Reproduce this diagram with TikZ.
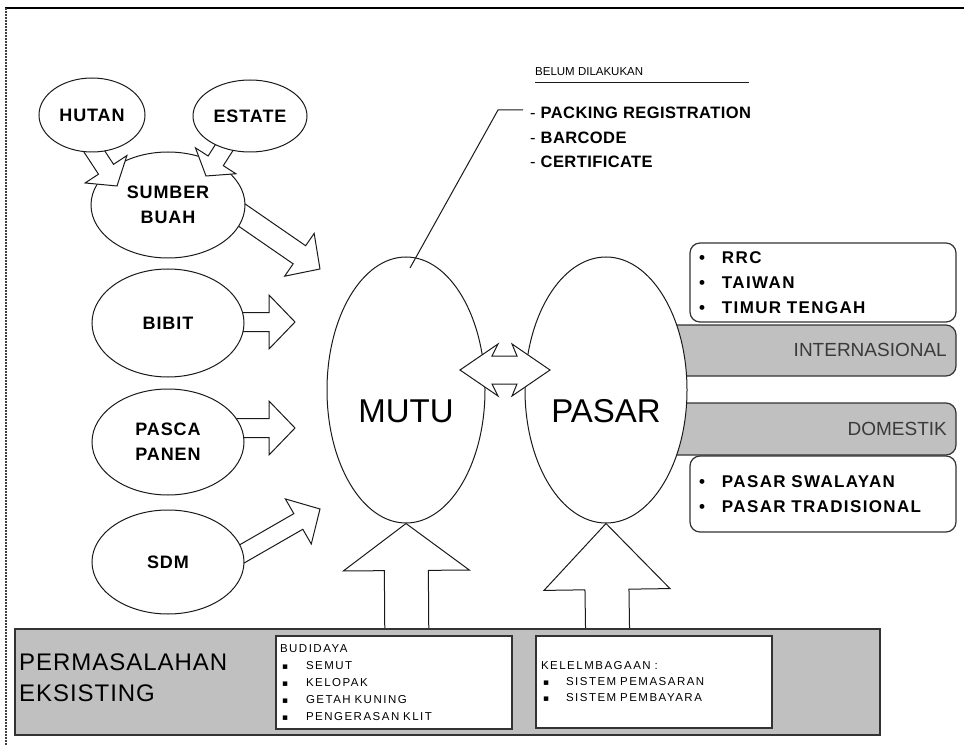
\documentclass[tikz,border=0pt]{standalone}
\usepackage{fontspec}
\setmainfont{Liberation Sans}
\newfontfamily\dgOvalFace[LetterSpace=5]{Liberation Sans}
\newfontfamily\dgListFace[LetterSpace=8]{Liberation Sans}
\newfontfamily\dgSmallFace[LetterSpace=13]{Liberation Sans}
\newfontfamily\dgWideFace[LetterSpace=4]{Liberation Sans}
\newfontfamily\dgNoteFace[LetterSpace=2.5]{Liberation Sans}
\newfontfamily\dgSymFace{DejaVu Sans}
\usetikzlibrary{shapes.geometric,calc}
\pgfdeclarelayer{back}
\pgfdeclarelayer{mid}
\pgfdeclarelayer{front}
\pgfsetlayers{back,main,mid,front}

\definecolor{panel}{HTML}{C0C0C0}
\definecolor{edge}{HTML}{333333}
\definecolor{ink}{HTML}{1A1A1A}
\definecolor{bandtext}{HTML}{3A3A3A}

\newcommand\dgOval{\dgOvalFace\bfseries\fontsize{18}{25}\selectfont}
\newcommand\dgBig{\fontsize{33}{36}\selectfont}
\newcommand\dgList{\dgListFace\bfseries\fontsize{17}{25}\selectfont}
\newcommand\dgBand{\fontsize{19}{22}\selectfont}
\newcommand\dgSmall{\dgSmallFace\fontsize{11.5}{17.2}\selectfont}
\newcommand\dgIssue{\dgWideFace\fontsize{24}{31}\selectfont}
\newcommand\dgNote{\dgNoteFace\fontsize{16.5}{24.5}\selectfont}
\newcommand\dgSq{{\dgSymFace\fontsize{9}{10}\selectfont ▪}}

% Block arrow from #1 to #2: shaft half-width #3, head half-width #4, head length #5
\newcommand\blockarrow[5]{%
  \path let \p1=($(#2)-(#1)$) in \pgfextra{%
    \pgfmathsetmacro\dgLen{veclen(\x1,\y1)}%
    \pgfmathsetmacro\dgAng{atan2(\y1,\x1)}%
    \xdef\dgLen{\dgLen}\xdef\dgAng{\dgAng}};
  \begin{scope}[shift={(#1)},rotate=\dgAng]
    \draw[blockarrow]
      (0pt,#3pt) -- ({\dgLen pt-#5pt},#3pt) -- ({\dgLen pt-#5pt},#4pt)
      -- (\dgLen pt,0pt)
      -- ({\dgLen pt-#5pt},-#4pt) -- ({\dgLen pt-#5pt},-#3pt) -- (0pt,-#3pt) -- cycle;
  \end{scope}}

\tikzset{
  oval/.style={ellipse, draw=ink, line width=1pt, fill=white, inner sep=0pt,
    align=center, font=\dgOval},
  bigoval/.style={ellipse, draw=ink, line width=1pt, fill=white, inner sep=0pt,
    font=\dgBig},
  blockarrow/.style={draw=ink, line width=1pt, fill=white, line join=miter},
  band/.style={fill=panel, draw=edge, line width=1.2pt, rounded corners=10pt},
  listbox/.style={draw=edge, line width=1.2pt, fill=white, rounded corners=10pt,
    inner ysep=0pt, inner xsep=9pt, align=left, font=\dgList},
  issuebox/.style={draw=edge, line width=1.5pt, fill=white, inner ysep=0pt,
    align=left, font=\dgSmall},
  bandlabel/.style={anchor=east, inner sep=0pt, font=\dgBand, text=bandtext},
}

\begin{document}
\begin{tikzpicture}[x=1pt,y=-1pt]
\useasboundingbox (0,0) rectangle (964,746);
\begin{pgfonlayer}{back}
  \fill[white] (0,0) rectangle (964,746);
\end{pgfonlayer}

% outer frame (top and left edges only)
\draw[black, line width=2pt] (5,8) -- (964,8);
\draw[black!75, line width=1.4pt, dash pattern=on 2pt off 1pt] (6,8) -- (6,746);

% ---------- main ovals ----------
\node[oval, minimum width=154pt, minimum height=106pt] (sumber) at (168,205) {SUMBER\\BUAH};
\node[oval, minimum width=152pt, minimum height=108pt] (bibit) at (168,323) {BIBIT};
\node[oval, minimum width=152pt, minimum height=106pt] (pasca) at (168,442) {PASCA\\PANEN};
\node[oval, minimum width=152pt, minimum height=104pt] (sdm) at (168,562) {SDM};
\node[bigoval, minimum width=158pt, minimum height=266pt] (mutu) at (406,390)
  {\raisebox{-32pt}[0pt][0pt]{MUTU}};
\node[bigoval, minimum width=162pt, minimum height=266pt] (pasar) at (606,390)
  {\raisebox{-32pt}[0pt][0pt]{PASAR}};

% ---------- market segments ----------
\begin{pgfonlayer}{back}
  \draw[band] (640,325) rectangle (956,376);
  \draw[band] (640,403) rectangle (956,455);
\end{pgfonlayer}
\node[bandlabel] (intlLabel) at (947,350) {INTERNASIONAL};
\node[bandlabel] (domLabel) at (947,429) {DOMESTIK};

\node[listbox, minimum width=266pt, minimum height=79pt, text width=248pt] (export) at (823,282.5)
  {\makebox[23pt][l]{•}RRC\\\makebox[23pt][l]{•}TAIWAN\\\makebox[23pt][l]{•}TIMUR TENGAH};
\node[listbox, minimum width=266pt, minimum height=76pt, text width=248pt] (local) at (823,494)
  {\makebox[23pt][l]{•}PASAR SWALAYAN\\\makebox[23pt][l]{•}PASAR TRADISIONAL};

% ---------- existing problems ----------
\node[draw=edge, line width=1.5pt, fill=panel, minimum width=865pt, minimum height=106pt,
  inner sep=0pt] (issues) at (447.5,682) {};
\node[anchor=west, align=left, inner sep=0pt, font=\dgIssue] (issuesTitle) at (19,678)
  {PERMASALAHAN\\EKSISTING};
\node[issuebox, minimum width=236pt, minimum height=93pt, text width=228pt, inner xsep=4pt]
  (budidaya) at (394,682.5)
  {BUDIDAYA\\\makebox[26pt][l]{\hspace{2pt}\dgSq}SEMUT\\\makebox[26pt][l]{\hspace{2pt}\dgSq}KELOPAK\\
   \makebox[26pt][l]{\hspace{2pt}\dgSq}GETAH KUNING\\\makebox[26pt][l]{\hspace{2pt}\dgSq}PENGERASAN KLIT};
\node[issuebox, minimum width=236pt, minimum height=92pt, text width=226pt, inner xsep=5pt,
  font=\dgSmallFace\fontsize{11.5}{16}\selectfont]
  (lembaga) at (654,682)
  {KELELMBAGAAN :\\\makebox[25pt][l]{\hspace{2pt}\dgSq}SISTEM PEMASARAN\\\makebox[25pt][l]{\hspace{2pt}\dgSq}SISTEM PEMBAYARA};

% ---------- arrows into MUTU and up from the problems ----------
\coordinate (sumberTail) at (220,200);
\coordinate (sumberTip) at (320,269);
\coordinate (bibitTail) at (200,322);
\coordinate (bibitTip) at (295,322);
\coordinate (pascaTail) at (200,428);
\coordinate (pascaTip) at (295,428);
\coordinate (sdmTail) at (200,578);
\coordinate (sdmTip) at (320,509);
\coordinate (mutuFoot) at (407,660);
\coordinate (pasarFoot) at (608,660);
\begin{pgfonlayer}{back}
  \blockarrow{sumberTail}{sumberTip}{11}{26}{25}
  \blockarrow{bibitTail}{bibitTip}{9.5}{27}{26}
  \blockarrow{pascaTail}{pascaTip}{9.5}{27}{26}
  \blockarrow{sdmTail}{sdmTip}{9}{26}{25}
  \blockarrow{mutuFoot}{mutu.south}{22}{63}{47}
  \blockarrow{pasarFoot}{pasar.south}{22}{63}{66}
\end{pgfonlayer}

% ---------- sources feeding SUMBER BUAH ----------
\begin{pgfonlayer}{front}
  \node[oval, minimum width=106pt, minimum height=74pt] (hutan) at (92,115) {HUTAN};
  \node[oval, minimum width=114pt, minimum height=72pt] (estate) at (250,116) {ESTATE};
\end{pgfonlayer}
\coordinate (hutanTail) at (77,125);
\coordinate (hutanTip) at (117,186);
\coordinate (estateTail) at (245,115);
\coordinate (estateTip) at (206,176);
\begin{pgfonlayer}{mid}
  \blockarrow{hutanTail}{hutanTip}{9}{25}{20}
  \blockarrow{estateTail}{estateTip}{9}{24}{18}
\end{pgfonlayer}

% ---------- two-way link between MUTU and PASAR ----------
\coordinate (link) at (505,370);
\begin{pgfonlayer}{front}
  \begin{scope}[shift={(link)}]
    \draw[blockarrow] (-45,0) -- (-7,-26) -- (-13,-14) -- (12,-14) -- (7,-26) -- (45,0)
      -- (7,26) -- (12,14) -- (-13,14) -- (-7,26) -- cycle;
  \end{scope}
\end{pgfonlayer}

% ---------- pending actions note ----------
\node[anchor=west, inner sep=0pt, font=\fontsize{11.5}{13}\selectfont] (pending) at (535,72)
  {BELUM DILAKUKAN};
\coordinate (ruleStart) at (535,83);
\coordinate (ruleEnd) at (749,83);
\draw[ink, line width=1pt] (ruleStart) -- (ruleEnd);
\node[anchor=west, align=left, inner sep=0pt, font=\dgNote] (todo)
  at (530,137.5)
  {- {\bfseries PACKING REGISTRATION}\\- {\bfseries BARCODE}\\- {\bfseries CERTIFICATE}};
\coordinate (calloutFoot) at (410,268);
\coordinate (calloutBend) at (498,110);
\coordinate (calloutEnd) at (523,110);
\begin{pgfonlayer}{front}
  \draw[ink, line width=1pt] (calloutFoot) -- (calloutBend) -- (calloutEnd);
\end{pgfonlayer}
\end{tikzpicture}
\end{document}
